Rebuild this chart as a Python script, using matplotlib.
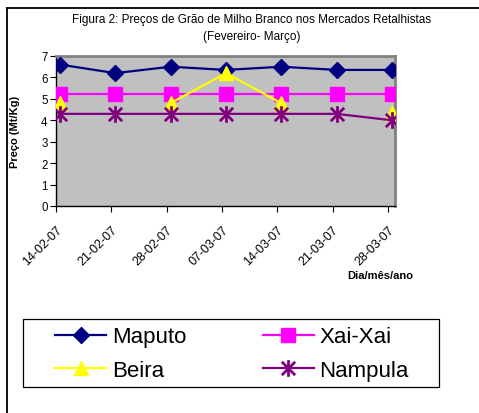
import numpy as np
import matplotlib
matplotlib.use("Agg")
import matplotlib.pyplot as plt
from matplotlib.path import Path
from matplotlib.lines import Line2D
from matplotlib.patches import Rectangle

plt.rcParams['font.family'] = ['Liberation Sans', 'DejaVu Sans']

dates = ["14-02-07", "21-02-07", "28-02-07", "07-03-07", "14-03-07", "21-03-07", "28-03-07"]
maputo = [6.6, 6.2, 6.5, 6.35, 6.5, 6.35, 6.35]
xaixai = [5.25, 5.25, 5.25, 5.25, 5.25, 5.25, 5.25]
beira = [4.8, np.nan, 4.8, 6.2, 4.8, np.nan, 4.35]
nampula = [4.3, 4.3, 4.3, 4.3, 4.3, 4.3, 4.0]

title = "Figura 2: Preços de Grão de Milho Branco nos Mercados Retalhistas\n(Fevereiro- Março)"
ylabel = "Preço (Mt/Kg)"
xlabel = "Dia/mês/ano"

W, H = 479, 414
fig = plt.figure(figsize=(W / 100, H / 100), dpi=100)

# outer frame (left and top visible)
fig.add_artist(Line2D([6.5 / W, 6.5 / W], [0, 1 - 9 / H], color='black', lw=1.3, transform=fig.transFigure))
fig.add_artist(Line2D([6.5 / W, 1], [1 - 9 / H, 1 - 9 / H], color='black', lw=1.3, transform=fig.transFigure))

ax = fig.add_axes([56 / W, 1 - 207 / H, (395 - 56) / W, (207 - 57) / H])
ax.set_facecolor('#C0C0C0')

x = np.arange(len(dates))

ast = Path([(0, -1), (0, 1), (-0.8, -0.8), (0.8, 0.8), (-0.8, 0.8), (0.8, -0.8)],
           [Path.MOVETO, Path.LINETO, Path.MOVETO, Path.LINETO, Path.MOVETO, Path.LINETO])

h1, = ax.plot(x, maputo, color='#000080', lw=1.6, marker='D', ms=8, mfc='#000080', mec='#000080', label='Maputo', zorder=3)
h2, = ax.plot(x, xaixai, color='#FF00FF', lw=1.6, marker='s', ms=10, mfc='#FF00FF', mec='#FF00FF', label='Xai-Xai', zorder=3)
h3, = ax.plot(x, beira, color='#FFFF00', lw=1.6, marker='^', ms=10, mfc='#FFFF00', mec='#FFFF00', label='Beira', zorder=4)
h4, = ax.plot(x, nampula, color='#800080', lw=1.6, marker=ast, ms=12, mfc='none', mec='#800080', mew=2.0, label='Nampula', zorder=4)

ax.set_xlim(-0.072, 6.055)
ax.set_ylim(0, 7)
ax.set_yticks(range(0, 8))
ax.set_xticks(x - 0.072)
ax.set_xticklabels(dates, rotation=45, ha='right', va='top', rotation_mode='anchor')
ax.tick_params(axis='both', labelsize=8.3, direction='out', length=4, width=0.8, color='black', pad=2)
ax.tick_params(axis='x', pad=8.5, labelsize=9)

for s in ['top', 'right']:
    ax.spines[s].set_color('#808080')
    ax.spines[s].set_linewidth(2)
for s in ['left', 'bottom']:
    ax.spines[s].set_color('black')
    ax.spines[s].set_linewidth(1)

fig.text(252 / W, 1 - 28.5 / H, title, ha='center', va='center', fontsize=8.5, linespacing=1.45)
fig.text(15 / W, 1 - 132 / H, ylabel, ha='center', va='center', rotation=90, fontsize=8, fontweight='bold')
fig.text(380 / W, 1 - 276 / H, xlabel, ha='center', va='center', fontsize=8, fontweight='bold')

# legend frame
fig.add_artist(Rectangle((23 / W, 1 - 388 / H), (439 - 23) / W, (388 - 320) / H, transform=fig.transFigure,
                         fill=True, facecolor='white', edgecolor='black', lw=0.9))
leg = fig.legend([h1, h3, h2, h4], ['Maputo', 'Beira', 'Xai-Xai', 'Nampula'],
                 loc='center left', bbox_to_anchor=(55 / W, 1 - 354.5 / H),
                 ncol=2, fontsize=16, frameon=False, handlelength=2.3, handletextpad=0.25,
                 borderpad=0, labelspacing=0.55, columnspacing=3.45, borderaxespad=0)
leg.set_zorder(5)

fig.savefig('out.png', dpi=100)
